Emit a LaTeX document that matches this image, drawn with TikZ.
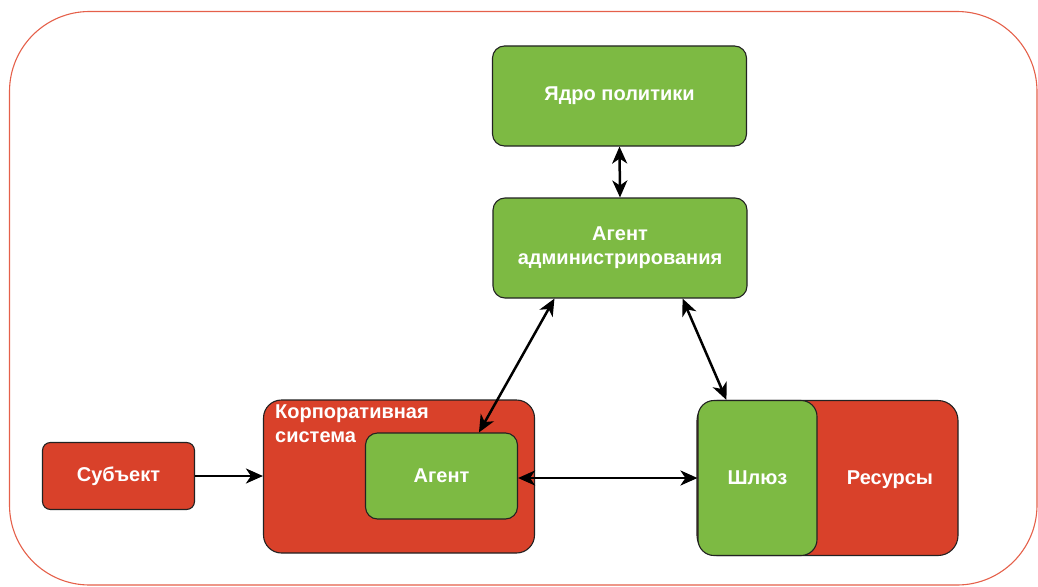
\documentclass[tikz,border=0pt]{standalone}
\usepackage{fontspec}
\setmainfont{Liberation Sans}
\usetikzlibrary{arrows.meta,calc}
\definecolor{boxgreen}{HTML}{7DBA43}
\definecolor{boxred}{HTML}{D9412A}
\definecolor{framered}{HTML}{E5604A}
\definecolor{edge}{HTML}{222222}
\tikzset{
  box/.style={draw=edge, line width=1.1pt, text=white, font=\fontsize{20}{24}\selectfont\bfseries, align=center, inner sep=0pt},
  greenbox/.style={box, fill=boxgreen},
  redbox/.style={box, fill=boxred},
  lbl/.style={text=white, font=\fontsize{20}{24}\selectfont\bfseries, inner sep=0pt},
  bigtip/.tip={Stealth[length=17pt 0,width=15pt 0,inset=5pt 0]},
  conn/.style={line width=2.5pt, black, {bigtip}-{bigtip}},
  oneway/.style={line width=2.5pt, black, -{bigtip}}
}
\begin{document}
\begin{tikzpicture}[x=1pt,y=1pt]
\useasboundingbox (0,-586) rectangle (1038,0);
\clip (0,-586) rectangle (1038,0);
\draw[framered, line width=1.1pt, rounded corners=80pt] (9.5,-11.5) rectangle (1037,-585);

\node[redbox, rounded corners=8pt, minimum width=152pt, minimum height=67pt] (subj) at (118.5,-476) {Субъект};
\node[redbox, rounded corners=18pt, minimum width=271pt, minimum height=153pt] (corp) at (399,-476.5) {};
\node[lbl, anchor=north west, align=left] (corplbl) at (275,-405) {Корпоративная\\система};
\node[greenbox, rounded corners=12pt, minimum width=152pt, minimum height=86pt] (agent) at (441.5,-476) {Агент};

\node[redbox, rounded corners=20pt, minimum width=261pt, minimum height=155pt] (res) at (827.5,-478) {};
\node[lbl] (reslbl) at (890,-480) {Ресурсы};
\node[greenbox, rounded corners=16pt, minimum width=119pt, minimum height=155pt] (gw) at (757.5,-478) {Шлюз};

\node[greenbox, rounded corners=12pt, minimum width=254pt, minimum height=100pt] (core) at (619.5,-96) {Ядро политики};
\node[greenbox, rounded corners=12pt, minimum width=254pt, minimum height=100pt] (admin) at (620,-248) {Агент\\администрирования};

\draw[conn] (core.south) -- (admin.north);
\draw[conn] ([xshift=62pt]admin.south west) -- ([xshift=114pt]agent.north west);
\draw[conn] ([xshift=-65pt]admin.south east) -- ([xshift=29pt]gw.north west);
\draw[conn] (agent.east |- gw.west) -- (gw.west);
\draw[oneway] (subj.east) -- (subj.east -| corp.west);
\end{tikzpicture}
\end{document}
